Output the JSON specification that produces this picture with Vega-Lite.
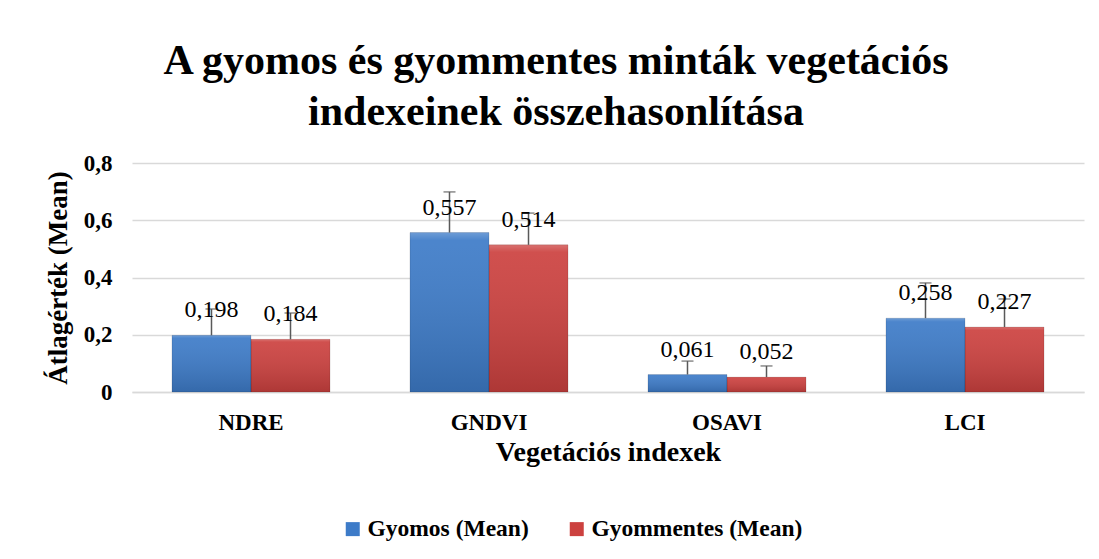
{
  "$schema": "https://vega.github.io/schema/vega-lite/v6.json",
  "width": 952,
  "height": 229,
  "autosize": "none",
  "padding": {"left": 132, "top": 163, "right": 15, "bottom": 167},
  "background": "white",
  "config": {
    "locale": {"number": {"decimal": ",", "thousands": " ", "grouping": [3], "currency": ["", ""]}},
    "view": {"stroke": null},
    "font": "Liberation Serif"
  },
  "title": {
    "text": ["A gyomos és gyommentes minták vegetációs", "indexeinek összehasonlítása"],
    "font": "Liberation Serif",
    "fontSize": 42,
    "fontWeight": "bold",
    "color": "black",
    "anchor": "middle",
    "frame": "group",
    "dx": -52,
    "lineHeight": 51,
    "offset": 18
  },
  "data": {
    "values": [
      {"index": "NDRE", "series": "Gyomos (Mean)", "mean": 0.198, "upper": 0.290},
      {"index": "NDRE", "series": "Gyommentes (Mean)", "mean": 0.184, "upper": 0.276},
      {"index": "GNDVI", "series": "Gyomos (Mean)", "mean": 0.557, "upper": 0.699},
      {"index": "GNDVI", "series": "Gyommentes (Mean)", "mean": 0.514, "upper": 0.625},
      {"index": "OSAVI", "series": "Gyomos (Mean)", "mean": 0.061, "upper": 0.108},
      {"index": "OSAVI", "series": "Gyommentes (Mean)", "mean": 0.052, "upper": 0.091},
      {"index": "LCI", "series": "Gyomos (Mean)", "mean": 0.258, "upper": 0.381},
      {"index": "LCI", "series": "Gyommentes (Mean)", "mean": 0.227, "upper": 0.325}
    ]
  },
  "encoding": {
    "x": {
      "field": "index",
      "type": "nominal",
      "sort": ["NDRE", "GNDVI", "OSAVI", "LCI"],
      "scale": {"paddingInner": 0.336, "paddingOuter": 0.168},
      "axis": {
        "title": "Vegetációs indexek",
        "titleFont": "Liberation Serif",
        "titleFontSize": 28,
        "titleFontWeight": "bold",
        "titleColor": "black",
        "titlePadding": 4,
        "labelFont": "Liberation Serif",
        "labelFontSize": 23,
        "labelFontWeight": "bold",
        "labelColor": "black",
        "labelAngle": 0,
        "labelPadding": 19,
        "ticks": false,
        "domain": true,
        "domainColor": "#D9D9D9",
        "domainWidth": 1.5
      }
    },
    "xOffset": {
      "field": "series",
      "type": "nominal",
      "sort": ["Gyomos (Mean)", "Gyommentes (Mean)"],
      "scale": {"paddingInner": 0, "paddingOuter": 0}
    }
  },
  "layer": [
    {
      "mark": {"type": "bar"},
      "encoding": {
        "y": {
          "field": "mean",
          "type": "quantitative",
          "scale": {"domain": [0, 0.8]},
          "axis": {
            "title": "Átlagérték (Mean)",
            "titleFont": "Liberation Serif",
            "titleFontSize": 27,
            "titleFontWeight": "bold",
            "titleColor": "black",
            "titlePadding": 11,
            "labelFont": "Liberation Serif",
            "labelFontSize": 23,
            "labelFontWeight": "bold",
            "labelColor": "black",
            "labelPadding": 20,
            "format": ".1~f",
            "values": [0, 0.2, 0.4, 0.6, 0.8],
            "ticks": false,
            "domain": false,
            "grid": true,
            "gridColor": "#D9D9D9",
            "gridWidth": 1.5
          }
        },
        "color": {
          "field": "series",
          "type": "nominal",
          "sort": ["Gyomos (Mean)", "Gyommentes (Mean)"],
          "scale": {"domain": ["Gyomos (Mean)", "Gyommentes (Mean)"], "range": ["#3D7BC8", "#CC413F"]},
          "legend": {
            "title": null,
            "orient": "none",
            "direction": "horizontal",
            "legendX": 209,
            "legendY": 354,
            "symbolType": "square",
            "symbolSize": 196,
            "symbolStrokeWidth": 0,
            "labelFont": "Liberation Serif",
            "labelFontSize": 23.5,
            "labelFontWeight": "bold",
            "labelColor": "black",
            "labelOffset": 3,
            "columnPadding": 36,
            "labelLimit": 400
          }
        }
      }
    },
    {
      "mark": {
        "type": "bar",
        "fill": {
          "gradient": "linear",
          "x1": 0, "y1": 0, "x2": 0, "y2": 1,
          "stops": [
            {"offset": 0, "color": "rgba(255,255,255,0.25)"},
            {"offset": 0.05, "color": "rgba(255,255,255,0.08)"},
            {"offset": 1, "color": "rgba(0,0,0,0.15)"}
          ]
        },
        "stroke": "rgba(0,0,0,0.15)",
        "strokeWidth": 0.8
      },
      "encoding": {
        "y": {"field": "mean", "type": "quantitative"}
      }
    },
    {
      "mark": {"type": "rule", "color": "#595959", "strokeWidth": 1.5},
      "encoding": {
        "y": {"field": "mean", "type": "quantitative"},
        "y2": {"field": "upper"}
      }
    },
    {
      "mark": {"type": "tick", "color": "#595959", "size": 12, "thickness": 1.5, "orient": "horizontal"},
      "encoding": {
        "y": {"field": "upper", "type": "quantitative"}
      }
    },
    {
      "mark": {"type": "text", "font": "Liberation Serif", "fontSize": 24, "color": "black", "baseline": "alphabetic", "dy": -18},
      "encoding": {
        "y": {"field": "mean", "type": "quantitative"},
        "text": {"field": "mean", "type": "quantitative", "format": ".3f"}
      }
    }
  ]
}
